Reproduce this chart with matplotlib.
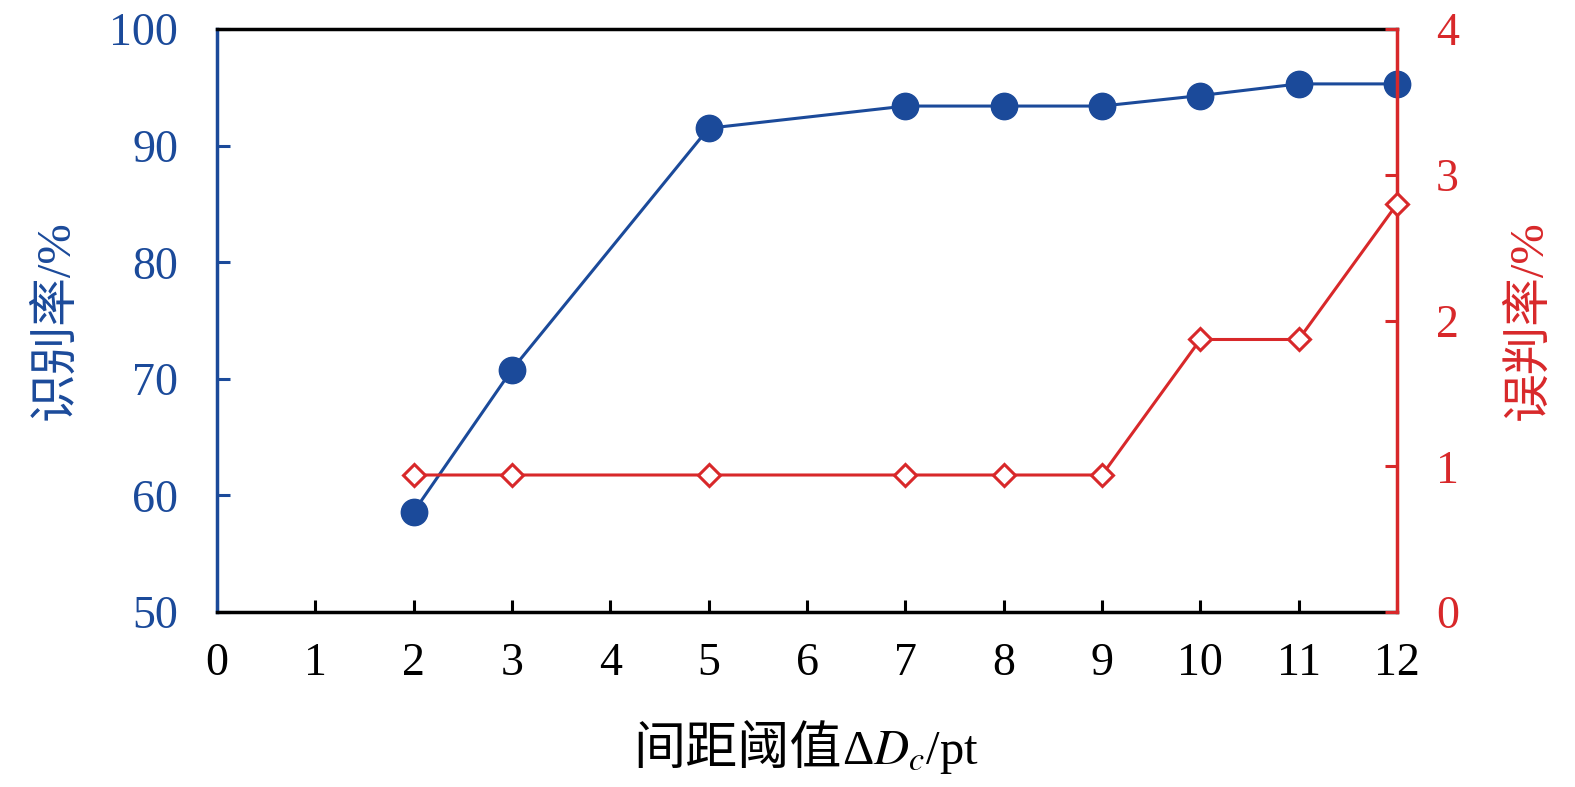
import matplotlib
matplotlib.use("Agg")
import matplotlib.pyplot as plt

plt.rcParams["font.family"] = ["Liberation Serif", "Noto Sans CJK SC"]
plt.rcParams["mathtext.fontset"] = "stix"

# data
thresholds = [2, 3, 5, 7, 8, 9, 10, 11, 12]
recognition_rate = [58.6, 70.8, 91.5, 93.4, 93.4, 93.4, 94.3, 95.3, 95.3]
misjudge_rate = [0.94, 0.94, 0.94, 0.94, 0.94, 0.94, 1.87, 1.87, 2.80]
x_ticks = list(range(0, 13))
left_ticks = [50, 60, 70, 80, 90, 100]
right_ticks = [0, 1, 2, 3, 4]

BLUE = "#1b4a9a"
RED = "#d8282a"

fig = plt.figure(figsize=(15.75, 7.87), dpi=100)
ax = fig.add_axes([0.1378, 0.2224, 0.887 - 0.1378, 0.963 - 0.2224])
ax2 = ax.twinx()

ax.plot(thresholds, recognition_rate, color=BLUE, lw=2.2, marker="o",
        markersize=19, zorder=3, clip_on=False)
ax2.plot(thresholds, misjudge_rate, color=RED, lw=2.2, marker="D",
         markersize=11, markerfacecolor="white", markeredgecolor=RED,
         markeredgewidth=2.2, zorder=3, clip_on=False)

ax.set_xlim(0, 12)
ax.set_ylim(50, 100)
ax2.set_ylim(0, 4)
ax.set_xticks(x_ticks)
ax.set_yticks(left_ticks)
ax2.set_yticks(right_ticks)

# spines
for a in (ax, ax2):
    for s in a.spines.values():
        s.set_linewidth(2.5)
ax.spines["left"].set_color(BLUE)
ax2.spines["left"].set_visible(False)
ax2.spines["right"].set_color(RED)
ax.spines["right"].set_visible(False)
ax2.spines["bottom"].set_visible(False)
ax2.spines["top"].set_visible(False)

ax.tick_params(axis="x", direction="in", length=9, width=2.2, labelsize=33,
               pad=22, colors="black")
ax.tick_params(axis="y", direction="in", length=9, width=2.2, labelsize=33,
               pad=28, colors=BLUE)
ax2.tick_params(axis="y", direction="in", length=9, width=2.2, labelsize=33,
                pad=28, colors=RED)

# x label split: CJK part as plain text, symbol part as mathtext
fig.text(0.5346, 0.029, "间距阈值", fontsize=37.5, ha="right", va="baseline")
fig.text(0.5346, 0.029, "Δ$D_c$/pt", fontsize=35, ha="left", va="baseline")
ax.set_ylabel("识别率/%", fontsize=35, color=BLUE, labelpad=22)
ax2.set_ylabel("误判率/%", fontsize=35, color=RED, labelpad=34, rotation=90)

fig.savefig("out.png", dpi=100)
